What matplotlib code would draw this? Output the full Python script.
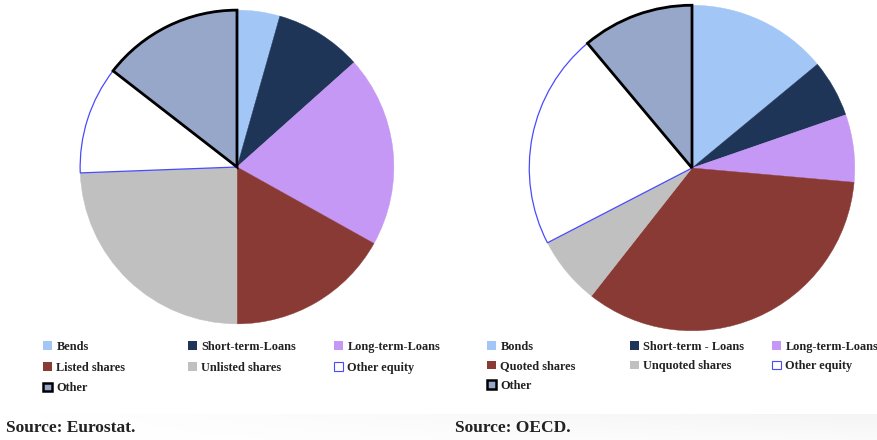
import matplotlib
matplotlib.use('Agg')
import matplotlib.pyplot as plt
from matplotlib.patches import Patch
import numpy as np

# Eurostat shares (%), clockwise from 12 o'clock
eu_labels = ['Bends', 'Short-term-Loans', 'Long-term-Loans', 'Listed shares',
             'Unlisted shares', 'Other equity', 'Other']
eu_values = [4.4, 9.0, 19.7, 16.9, 24.4, 11.1, 14.5]

# OECD shares (%)
oecd_labels = ['Bonds', 'Short-term - Loans', 'Long-term-Loans', 'Quoted shares',
               'Unquoted shares', 'Other equity', 'Other']
oecd_values = [14.0, 5.7, 6.7, 34.2, 6.8, 21.5, 11.1]

sources = ['Source: Eurostat.', 'Source: OECD.']

colors = ['#a2c6f6', '#1e3557', '#c498f4', '#8a3a35', '#c0c0c0', '#ffffff', '#97a7ca']
edge_colors = ['none', 'none', 'none', 'none', 'none', '#4a4aff', '#000000']
edge_widths = [0, 0, 0, 0, 0, 0.9, 2.0]

W, H = 877, 440
fig = plt.figure(figsize=(W / 100, H / 100), dpi=100)
fig.patch.set_facecolor('white')

# faint grey shading at the bottom
band = fig.add_axes([0, 0, 1, 26 / H])
grad = np.linspace(0, 1, 256)[None, :] * np.linspace(0.4, 1, 20)[:, None]
band.imshow(grad, aspect='auto', cmap='Greys', vmin=0, vmax=11, origin='lower',
            extent=[0, 1, 0, 1])
band.axis('off')


def draw_pie(cx, cy, r, values):
    ax = fig.add_axes([(cx - r) / W, (H - cy - r) / H, 2 * r / W, 2 * r / H])
    wedges, _ = ax.pie(values, colors=colors, startangle=90, counterclock=False,
                       radius=1.0)
    for w, ec, lw in zip(wedges, edge_colors, edge_widths):
        if lw > 0:
            w.set_edgecolor(ec)
            w.set_linewidth(lw)
        else:
            w.set_edgecolor(w.get_facecolor())
            w.set_linewidth(0.3)
    wedges[-1].set_zorder(5)
    ax.set_xlim(-1.02, 1.02)
    ax.set_ylim(-1.02, 1.02)
    ax.set_aspect('equal')
    ax.axis('off')
    return ax


draw_pie(237, 167, 160, eu_values)
draw_pie(692, 168, 166, oecd_values)

font = {'family': 'Liberation Serif', 'weight': 'bold', 'size': 8.8}


def make_legend(labels, col_x, top, spacing):
    handles = []
    for lab, c, ec, lw in zip(labels, colors, edge_colors, edge_widths):
        if lw > 0:
            handles.append(Patch(facecolor=c, edgecolor=ec, linewidth=lw * 0.9, label=lab))
        else:
            handles.append(Patch(facecolor=c, edgecolor='none', label=lab))
    # one legend per column so the columns sit where the reference has them
    columns = [[0, 3, 6], [1, 4], [2, 5]]
    for x, idx in zip(col_x, columns):
        leg = fig.legend(handles=[handles[i] for i in idx], loc='upper left',
                         bbox_to_anchor=(x / W, 1 - top / H), ncol=1, frameon=False,
                         prop=font, handlelength=0.7, handleheight=0.7,
                         handletextpad=0.4, labelspacing=spacing,
                         borderaxespad=0, borderpad=0)
        for t in leg.get_texts():
            t.set_color('#222222')


make_legend(eu_labels, [43, 188, 334], 341, 0.7)
make_legend(oecd_labels, [487, 630, 772], 341, 0.6)

fig.text(6 / W, 1 - 428 / H, sources[0], fontsize=12.5, fontweight='bold',
         family='Liberation Serif', color='#222222', va='center')
fig.text(455 / W, 1 - 428 / H, sources[1], fontsize=12.5, fontweight='bold',
         family='Liberation Serif', color='#222222', va='center')

fig.savefig('out.png', dpi=100)
